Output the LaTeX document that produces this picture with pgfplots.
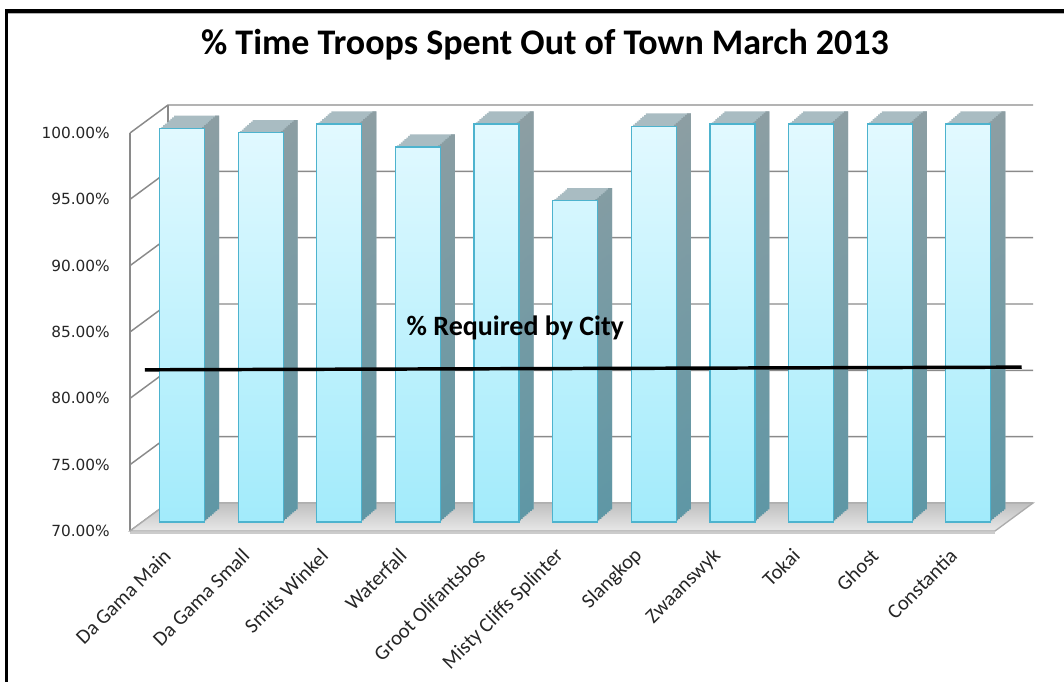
\documentclass[border=0pt]{standalone}
\usepackage{pgfplots}
\pgfplotsset{compat=1.18}
\usepackage{pgfplotstable}
\usepackage{fontspec}
\setmainfont{Carlito}
\newfontfamily\dejavu{DejaVu Sans}
\definecolor{edgec}{HTML}{4DB3CE}
\definecolor{ftop}{HTML}{E2F9FF}
\definecolor{fbot}{HTML}{A2EBFB}
\definecolor{sidetop}{HTML}{8D9EA3}
\definecolor{sidebot}{HTML}{5F97A5}
\definecolor{topface}{HTML}{A9BCC2}
\definecolor{gridc}{HTML}{8A8A8A}

\pgfplotstableread{
x val
0 99.67
1 99.34
2 100
3 98.26
4 100
5 94.21
6 99.84
7 100
8 100
9 100
10 100
}\bardata

\pgfplotstableread{
x y
-0.31 82.15
10.84 82.35
}\refdata

\begin{document}
\begin{tikzpicture}
\useasboundingbox (0,0) rectangle (798pt,511.5pt);
% frame
\fill[black] (3.75pt,0pt) rectangle (6.25pt,504.75pt);
\fill[black] (3.75pt,501.75pt) rectangle (798pt,504.75pt);
\fill[gray!60] (6.25pt,500.9pt) rectangle (798pt,501.75pt);
% title
\node[font=\bfseries\fontsize{27}{30}\selectfont] at (408.75pt,477.75pt) {\% Time Troops Spent Out of Town March 2013};
\begin{axis}[
  at={(97.5pt,113.25pt)}, anchor=south west,
  scale only axis, width=648.75pt, height=298.5pt,
  xmin=-0.5, xmax=10.5, ymin=0, ymax=30,
  clip=false,
  axis line style={draw=none},
  tick style={draw=none},
  xtick={0,...,10},
  xticklabels={Da Gama Main,Da Gama Small,Smits Winkel,Waterfall,Groot Olifantsbos,Misty Cliffs Splinter,Slangkop,Zwaanswyk,Tokai,Ghost,Constantia},
  xticklabel style={xshift=-1.5pt, yshift=-16pt, rotate=45, anchor=east, inner sep=0pt, font=\fontsize{15.5}{17}\selectfont, text=black!85},
  ytick={0,5,...,30},
  yticklabel={\pgfmathparse{\tick+70}\pgfmathprintnumber[fixed,fixed zerofill,precision=2]{\pgfmathresult}\%},
  yticklabel style={/pgf/number format/assume math mode=true, anchor=east, inner sep=0pt, xshift=-15pt, font=\dejavu\fontsize{11.5}{13}\selectfont, text=black!85},
]
% walls and gridlines
\pgfplotsinvokeforeach{0,5,...,30}{
  \draw[gridc, line width=1.1pt] (axis cs:-0.5,#1) -- ([shift={(28.5pt,21pt)}]axis cs:-0.5,#1) -- ([shift={(28.5pt,21pt)}]axis cs:10.5,#1);
}
\draw[gridc, line width=1.1pt] (axis cs:-0.5,0) -- (axis cs:-0.5,30);
\draw[gridc, line width=1.1pt] ([shift={(28.5pt,21pt)}]axis cs:-0.5,0) -- ([shift={(28.5pt,21pt)}]axis cs:-0.5,30);
% floor
\shade[top color=gray!50, bottom color=gray!18] (axis cs:-0.5,0) -- (axis cs:10.5,0) -- ([shift={(28.5pt,21pt)}]axis cs:10.5,0) -- ([shift={(28.5pt,21pt)}]axis cs:-0.5,0) -- cycle;
\draw[gray!65, line width=1pt] (axis cs:-0.5,0) -- (axis cs:10.5,0) -- ([shift={(28.5pt,21pt)}]axis cs:10.5,0) -- ([shift={(28.5pt,21pt)}]axis cs:-0.5,0) -- cycle;
\draw[gray!40, line width=0.8pt] ([yshift=-1.5pt]axis cs:-0.5,0) -- ([yshift=-1.5pt]axis cs:10.5,0);
% top faces (swept copies)
\pgfplotsinvokeforeach{1,...,8}{
  \addplot[ybar, bar width=33.75pt, bar shift=0pt, draw=none, fill=topface,
    xshift={9.5pt+#1*1.3625pt}, yshift={6.75pt+#1*1.19pt}]
    table[x=x, y expr=\thisrow{val}-70] {\bardata};
}
% side faces (swept narrow copies)
\pgfplotsinvokeforeach{0,...,8}{
  \addplot[ybar, bar width=3pt, bar shift=15.375pt, draw=none, top color=sidetop, bottom color=sidebot,
    xshift={9.5pt+#1*1.3625pt}, yshift={6.75pt+#1*1.19pt}]
    table[x=x, y expr=\thisrow{val}-70] {\bardata};
}
% front faces
\addplot[ybar, bar width=33.75pt, bar shift=0pt, draw=edgec, line width=0.9pt, top color=ftop, bottom color=fbot,
  xshift=9.5pt, yshift=6.75pt]
  table[x=x, y expr=\thisrow{val}-70] {\bardata};
% required line
\addplot[black, line width=2.6pt] table[x=x, y expr=\thisrow{y}-70] {\refdata};
\node[font=\bfseries\fontsize{21}{24}\selectfont] at (axis cs:4.4,15.3) {\% Required by City};
\end{axis}
\end{tikzpicture}
\end{document}
